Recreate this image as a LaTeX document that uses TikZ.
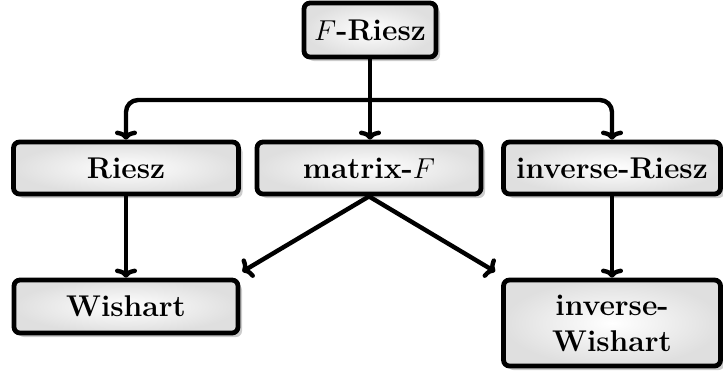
\documentclass[tikz,border=0pt]{standalone}
\usetikzlibrary{arrows.meta,shadows}
\begin{document}
\begin{tikzpicture}[x=0.5pt,y=-0.5pt,
  box/.style={draw=black, line width=2.4pt, rounded corners=3pt,
    shading=radial, inner color=white, outer color=gray!25,
    drop shadow={shadow xshift=2pt, shadow yshift=-2pt, opacity=0.5, fill=gray!80},
    font=\fontsize{15}{18}\selectfont\bfseries, align=center, inner sep=0pt},
  conn/.style={line width=2.2pt, -{To[length=4.5pt,width=11pt,round]}},
]
\useasboundingbox (0,0) rectangle (723,371);
\node[box, minimum width=66pt, minimum height=27pt] (F) at (370,30) {$F$-Riesz};
\node[box, minimum width=112.5pt, minimum height=26pt] (R) at (126,168) {Riesz};
\node[box, minimum width=112pt, minimum height=26pt] (M) at (369,168) {matrix-$F$};
\node[box, minimum width=108.5pt, minimum height=26pt] (IR) at (612,168) {inverse-Riesz};
\node[box, minimum width=112pt, minimum height=26.5pt] (W) at (126,306.5) {Wishart};
\node[box, minimum width=108.5pt, minimum height=43pt] (IW) at (612,323) {inverse-\\Wishart};
\coordinate (j) at (370,100);
\draw[conn] (F.south) -- (F.south |- M.north);
\draw[conn, rounded corners=6pt] (j) -| (R.north);
\draw[conn, rounded corners=6pt] (j) -| (IR.north);
\draw[conn] (R.south) -- (W.north);
\draw[conn] (IR.south) -- (IW.north);
\draw[conn] (M.south) -- ([xshift=1pt,yshift=3pt]W.north east);
\draw[conn] (M.south) -- ([xshift=-3pt,yshift=3pt]IW.north west);
\end{tikzpicture}
\end{document}
